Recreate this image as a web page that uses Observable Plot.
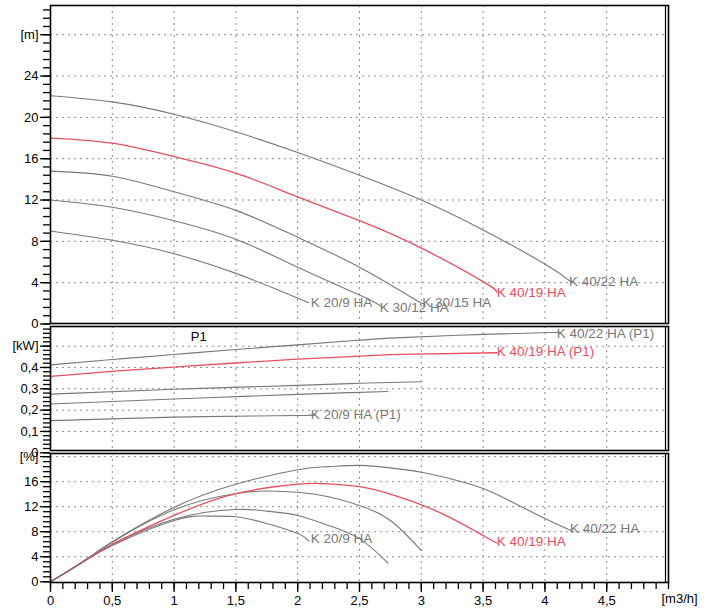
<!DOCTYPE html>
<html><head><meta charset="utf-8">
<script src="https://cdn.jsdelivr.net/npm/d3@7"></script>
<script src="https://cdn.jsdelivr.net/npm/@observablehq/plot@0.6"></script>
<style>
body{margin:0;background:#fff;}
#chart{position:relative;width:708px;height:611px;}
#chart svg{position:absolute;left:0;top:0;}
</style></head><body><div id="chart"></div>
<script>
const FONT = "'Liberation Sans', Arial, Helvetica, sans-serif";
const GRAY = "#787878", RED = "#e5505e";

const pumps = ["K 20/9 HA", "K 30/12 HA", "K 30/15 HA", "K 40/19 HA", "K 40/22 HA"];

// Head [Q m3/h, H m]
const head_20_9  = [[0,9.0],[0.5,8.1],[1,6.8],[1.5,4.9],[1.86,3.2],[2.09,2.06]];
const head_30_12 = [[0,12.0],[0.5,11.3],[1,10.0],[1.5,8.2],[2,5.5],[2.5,2.8],[2.68,1.7]];
const head_30_15 = [[0,14.8],[0.5,14.3],[1,12.8],[1.5,11.0],[2,8.4],[2.5,5.5],[3.0,2.0]];
const head_40_19 = [[0,18.0],[0.5,17.5],[1,16.2],[1.5,14.6],[2,12.3],[2.5,10.0],[3,7.35],[3.5,4.1],[3.61,3.1]];
const head_40_22 = [[0,22.1],[0.5,21.5],[1,20.3],[1.5,18.6],[2,16.6],[2.5,14.4],[3,12.0],[3.5,9.1],[4,5.8],[4.22,4.0]];

// Power P1 [Q m3/h, kW]
const pow_20_9  = [[0,0.151],[1,0.167],[2,0.175],[2.09,0.176]];
const pow_30_12 = [[0,0.229],[1,0.252],[2,0.274],[2.43,0.282],[2.73,0.287]];
const pow_30_15 = [[0,0.275],[1,0.298],[2,0.316],[2.5,0.326],[3,0.333]];
const pow_40_19 = [[0,0.358],[0.5,0.382],[1,0.402],[1.5,0.421],[2,0.439],[2.43,0.451],[2.84,0.461],[3.61,0.469]];
const pow_40_22 = [[0,0.412],[0.5,0.437],[1,0.461],[1.5,0.484],[2,0.506],[2.43,0.525],[2.84,0.540],[3.51,0.555],[4.12,0.565]];

// Efficiency [Q m3/h, %]
const eff_20_9  = [[0,0],[0.25,3.0],[0.5,5.8],[1,9.8],[1.27,10.5],[1.5,10.4],[1.75,9.3],[2,7.7],[2.09,6.5]];
const eff_30_12 = [[0,0],[0.25,3.0],[0.5,5.9],[1,10.0],[1.5,11.55],[1.75,11.3],[2,10.6],[2.25,9.0],[2.5,6.9],[2.73,3.0]];
const eff_30_15 = [[0,0],[0.25,3.1],[0.5,6.3],[1,11.5],[1.5,14.1],[1.75,14.5],[2,14.3],[2.25,13.6],[2.5,12.2],[2.75,9.8],[3,5.0]];
const eff_40_19 = [[0,0],[0.25,3.0],[0.5,6.0],[1,10.6],[1.5,14.1],[2,15.6],[2.2,15.7],[2.5,15.2],[2.75,14.0],[3,12.3],[3.25,10.1],[3.5,7.4],[3.61,6.2]];
const eff_40_22 = [[0,0],[0.25,3.1],[0.5,6.4],[1,11.9],[1.5,15.6],[2,17.9],[2.25,18.4],[2.5,18.6],[2.75,18.2],[3,17.5],[3.25,16.4],[3.5,14.9],[3.75,12.6],[4,10.1],[4.22,8.1]];

// Ticks
const xMajor = [0,0.5,1,1.5,2,2.5,3,3.5,4,4.5];
const xGrid = [0.5,1,1.5,2,2.5,3,3.5,4,4.5];
const xMinor = d3.range(0, 51).map(i => i / 10);
const headTicks = [0,4,8,12,16,20,24,28];
const headMinor = d3.range(0, 39).map(i => +(i * 0.8).toFixed(1));
const powTicks = [0,0.1,0.2,0.3,0.4,0.5];
const powMinor = d3.range(0, 30).map(i => +(i * 0.02).toFixed(2));
const effTicks = [0,4,8,12,16,20];
const effMinor = d3.range(0, 26).map(i => +(i * 0.8).toFixed(1));

const comma = d => String(d).replace(".", ",");

function rows(arr, pump) { return arr.map(([q, v]) => ({q, v, pump})); }
const headData = [head_20_9, head_30_12, head_30_15, head_40_19, head_40_22].flatMap((a, i) => rows(a, pumps[i]));
const powData  = [pow_20_9, pow_30_12, pow_30_15, pow_40_19, pow_40_22].flatMap((a, i) => rows(a, pumps[i]));
const effData  = [eff_20_9, eff_30_12, eff_30_15, eff_40_19, eff_40_22].flatMap((a, i) => rows(a, pumps[i]));

const colorOf = p => p === "K 40/19 HA" ? RED : GRAY;

function curveMarks(data) {
  return pumps.map(p => Plot.line(data.filter(d => d.pump === p), {
    x: "q", y: "v", stroke: colorOf(p), strokeWidth: p === "K 40/19 HA" ? 1.3 : 1.1, curve: "natural"
  }));
}
function labelMarks(data, specs, suffix) {
  return specs.map(([p, dx, dy]) => {
    const pts = data.filter(d => d.pump === p);
    const last = pts[pts.length - 1];
    return Plot.text([last], {x: "q", y: "v", text: () => p + suffix, textAnchor: "start",
      dx, dy, fill: colorOf(p), fontSize: 13.5});
  });
}

function panel({marginTop, marginBottom, yDomain, yRange, ticks, minor, fmt, data, labels, suffix = "", extra = [], bottomAxis = false}) {
  return Plot.plot({
    width: 708, height: 611,
    marginLeft: 50, marginRight: 40, marginTop, marginBottom,
    style: {background: "transparent", fontFamily: FONT, fontSize: "13px", color: "#000", overflow: "visible"},
    x: bottomAxis ? {domain: [0, 5], label: null} : {domain: [0, 5], axis: null, label: null},
    y: {domain: yDomain, range: yRange, label: null},
    marks: [
      Plot.gridX(xGrid, {stroke: "#8c8c8c", strokeOpacity: 1, strokeDasharray: "2,4"}),
      Plot.gridY(ticks.filter(d => d > 0), {stroke: "#8c8c8c", strokeOpacity: 1, strokeDasharray: "2,4"}),
      Plot.axisY({ticks: minor, tickSize: 7, tickFormat: () => "", label: null, strokeWidth: 1.3}),
      Plot.axisY({ticks, tickSize: 10, tickPadding: 2, tickFormat: fmt, label: null, strokeWidth: 1.3, fontSize: 13}),
      ...(bottomAxis ? [
        Plot.axisX({ticks: xMinor, tickSize: 7, tickFormat: () => "", label: null, strokeWidth: 1.3}),
        Plot.axisX({ticks: xMajor, tickSize: 10, tickPadding: 3, tickFormat: comma, label: null, strokeWidth: 1.3, fontSize: 13}),
        Plot.text([5], {x: d => d, frameAnchor: "bottom", dy: 20, text: () => "[m3/h]", textAnchor: "start", dx: -7, fill: "#000", fontSize: 13})
      ] : []),
      ...curveMarks(data),
      ...labelMarks(data, labels, suffix),
      ...extra,
      Plot.frame({stroke: "#000", strokeWidth: 1.6}),
      Plot.ruleX([5], {stroke: "#000", strokeWidth: 1.2, dx: -3})
    ]
  });
}

const chart = document.getElementById("chart");

chart.append(panel({
  marginTop: 5, marginBottom: 288,
  yDomain: [0, 30.83], yRange: [323.5, 5],
  ticks: headTicks, minor: headMinor,
  fmt: d => d === 28 ? "[m]" : String(d),
  data: headData,
  labels: [["K 20/9 HA", 2, 0], ["K 30/12 HA", -2, 1], ["K 30/15 HA", 1, -1], ["K 40/19 HA", 0, 1], ["K 40/22 HA", -3, -1]]
}));

chart.append(panel({
  marginTop: 326, marginBottom: 161,
  yDomain: [0, 0.592], yRange: [452.3, 326],
  ticks: powTicks, minor: powMinor,
  fmt: d => d === 0.5 ? "[kW]" : comma(d),
  data: powData, suffix: " (P1)",
  labels: [["K 20/9 HA", 2, -1], ["K 40/19 HA", 0, -1], ["K 40/22 HA", -3, 1]],
  extra: [Plot.text([{q: 1.2, v: 0.545}], {x: "q", y: "v", text: () => "P1", fill: "#000", fontSize: 13})]
}));

chart.append(panel({
  marginTop: 453, marginBottom: 29,
  yDomain: [0, 20.5], yRange: [581.3, 453],
  ticks: effTicks, minor: effMinor,
  fmt: d => d === 20 ? "[%]" : String(d),
  data: effData,
  labels: [["K 20/9 HA", 2, -2], ["K 40/19 HA", 0, -1], ["K 40/22 HA", -2, -2]],
  bottomAxis: true
}));
</script></body></html>
